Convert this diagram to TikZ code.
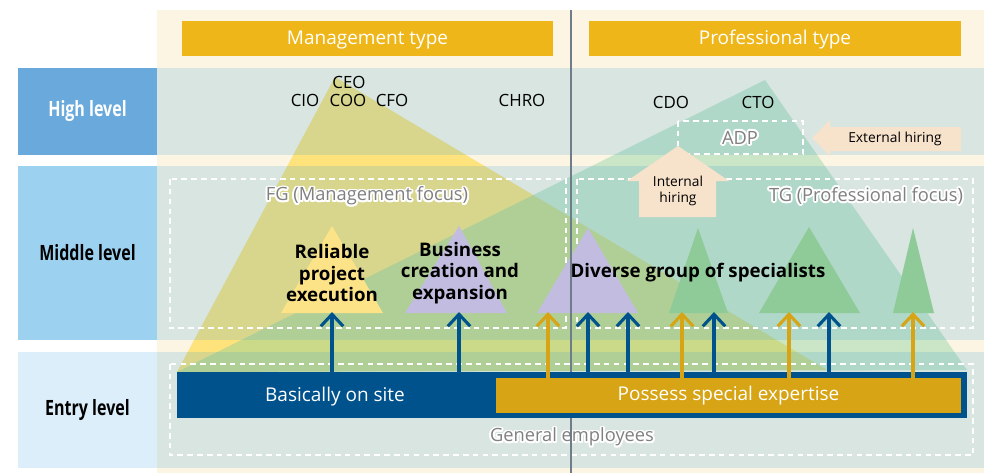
\documentclass[tikz,border=0pt]{standalone}
\usepackage{fontspec}
\setmainfont{Open Sans}
\newfontfamily\condfont{Open Sans}[FakeStretch=0.76]
\usepackage{contour}
\contourlength{1.3pt}
\usetikzlibrary{arrows.meta,positioning,calc}

\definecolor{cream}{HTML}{FDF5E4}
\definecolor{highlab}{HTML}{69A9DB}
\definecolor{midlab}{HTML}{9DD1F0}
\definecolor{entrylab}{HTML}{DCEEFA}
\definecolor{bandblue}{HTML}{44A5D0}
\definecolor{headgold}{HTML}{EFB61A}
\definecolor{bigyellow}{HTML}{FEE27C}
\definecolor{biggreen}{HTML}{80CE9C}
\definecolor{smallyellow}{HTML}{FDE388}
\definecolor{purple}{HTML}{C2BDE0}
\definecolor{smallgreen}{HTML}{8FCB98}
\definecolor{siteblue}{HTML}{00528C}
\definecolor{expertgold}{HTML}{D7A415}
\definecolor{hirecream}{HTML}{F7E2CB}
\definecolor{divider}{HTML}{6F7C8A}
\definecolor{graytext}{HTML}{808080}

\begin{document}
\begin{tikzpicture}[
    x=0.025cm,
    y=-0.025cm,
    levelbox/.style={
        rectangle,
        inner sep=0pt,
        minimum width=3.475cm,
        font=\condfont\bfseries\fontsize{15}{18}\selectfont
    },
    typebox/.style={
        rectangle,
        fill=headgold,
        text=white,
        inner sep=0pt,
        minimum height=0.875cm,
        text height=10pt,
        text depth=1pt,
        font=\fontsize{13.5}{16}\selectfont
    },
    rolelabel/.style={
        inner sep=1pt,
        font=\fontsize{12}{14}\selectfont
    },
    focuslabel/.style={
        inner sep=0pt,
        text=graytext,
        font=\fontsize{13}{15}\selectfont
    },
    dashbox/.style={
        draw=white,
        line width=1.4pt,
        dash pattern=on 4pt off 3pt
    },
    grouplabel/.style={
        align=center,
        inner sep=0pt,
        font=\bfseries\fontsize{13.3}{15.3}\selectfont
    },
    bartext/.style={
        text=white,
        inner sep=0pt,
        font=\fontsize{13.5}{16}\selectfont
    },
    hirelabel/.style={
        align=center,
        inner sep=0pt,
        font=\fontsize{9.8}{11.4}\selectfont
    },
    bluearrow/.style={
        draw=siteblue,
        line width=2.2pt,
        -{Straight Barb[length=3mm,width=5.6mm]}
    },
    goldarrow/.style={
        draw=expertgold,
        line width=2.2pt,
        -{Straight Barb[length=3mm,width=5.6mm]}
    }
]

\useasboundingbox (0,0) rectangle (984,473);

% =========================
% Background and level bands
% =========================

\fill[cream] (157,10) rectangle (984,473);

\fill[bigyellow] (335,77) -- (177,372) -- (827,370) -- cycle;
\fill[biggreen, opacity=0.4] (765,80) -- (177,372) -- (967,370) -- cycle;

\fill[bandblue, opacity=0.2] (157,68) rectangle (984,155);
\fill[bandblue, opacity=0.2] (157,166) rectangle (984,340);
\fill[bandblue, opacity=0.2] (157,352) rectangle (984,468);

\node[levelbox, fill=highlab, text=white, minimum height=2.175cm] (high) at (87.5,111.5) {High level};
\node[levelbox, fill=midlab, minimum height=4.35cm] (middle) at (87.5,253) {Middle level};
\node[levelbox, fill=entrylab, minimum height=2.9cm] (entry) at (87.5,410) {Entry level};

% =========================
% Type headers
% =========================

\node[typebox, minimum width=9.275cm] (mgmt) at (367.5,38.5) {Management type};
\node[typebox, minimum width=9.3cm] (prof) at (775,38.5) {Professional type};

% =========================
% Dashed groups
% =========================

\draw[dashbox] (170,179) rectangle (566,328);
\draw[dashbox] (577,179) rectangle (973,328);
\draw[dashbox] (170,364) rectangle (973,455);
\draw[dashbox] (678,121) rectangle (803,154);

\node[focuslabel] (fg) at (367,197) {\contour{white}{FG (Management focus)}};
\node[focuslabel] (tg) at (866,197) {\contour{white}{TG (Professional focus)}};
\node[focuslabel] (adp) at (740,139) {\contour{white}{ADP}};
\node[focuslabel] (general) at (572,438) {\contour{white}{General employees}};

% =========================
% Executive roles
% =========================

\node[rolelabel] (ceo) at (349,82) {CEO};
\node[rolelabel] (cio) at (305,100) {CIO};
\node[rolelabel] (coo) at (348,100) {COO};
\node[rolelabel] (cfo) at (392,100) {CFO};
\node[rolelabel] (chro) at (522,100) {CHRO};
\node[rolelabel] (cdo) at (671,102) {CDO};
\node[rolelabel] (cto) at (758,102) {CTO};

% =========================
% Skill triangles
% =========================

\fill[smallyellow] (332,226) -- (281,313) -- (383,313) -- cycle;
\fill[purple] (459,226) -- (405,313) -- (507,313) -- cycle;
\fill[purple] (588,228) -- (537,313) -- (638,313) -- cycle;
\fill[smallgreen] (698,228) -- (669,313) -- (728,313) -- cycle;
\fill[smallgreen] (809,227) -- (759,313) -- (860,313) -- cycle;
\fill[smallgreen] (913,228) -- (893,313) -- (934,313) -- cycle;

\node[grouplabel] (reliable) at (332,273) {Reliable\\project\\execution};
\node[grouplabel] (business) at (460,273) {Business\\creation and\\expansion};
\node[grouplabel] (diverse) at (698,273) {Diverse group of specialists};

% =========================
% Divider
% =========================

\draw[divider, line width=1.1pt] (571,10) -- (571,473);

% =========================
% Entry bars and arrows
% =========================

\node[rectangle, fill=siteblue, inner sep=0pt, minimum width=19.75cm, minimum height=1.15cm] (site) at (572,395) {};
\node[bartext] (sitetext) at (335,397) {Basically on site};
\node[bartext, fill=expertgold, minimum width=11.625cm, minimum height=0.875cm, text height=10pt, text depth=2.5pt] (expert) at (728.5,395.5) {Possess special expertise};

\foreach \x [count=\i] in {332,459,588,628,714,829} {
    \coordinate (bt\i) at (\x,312);
    \draw[bluearrow] (bt\i |- site.north) -- (bt\i);
}

\foreach \x [count=\i] in {548,682,789,913} {
    \coordinate (gt\i) at (\x,312);
    \draw[goldarrow] (gt\i |- expert.north) -- (gt\i);
}

% =========================
% Hiring arrows
% =========================

\fill[hirecream] (639,217) -- (639,181) -- (627,181) -- (678,146) -- (729,181) -- (716,181) -- (716,217) -- cycle;
\node[hirelabel] (internal) at (678,191) {Internal\\hiring};

\fill[hirecream] (961,127) -- (830,127) -- (830,120) -- (812,138) -- (830,156) -- (830,151) -- (961,151) -- cycle;
\node[hirelabel] (external) at (895,139) {External hiring};

\end{tikzpicture}
\end{document}
